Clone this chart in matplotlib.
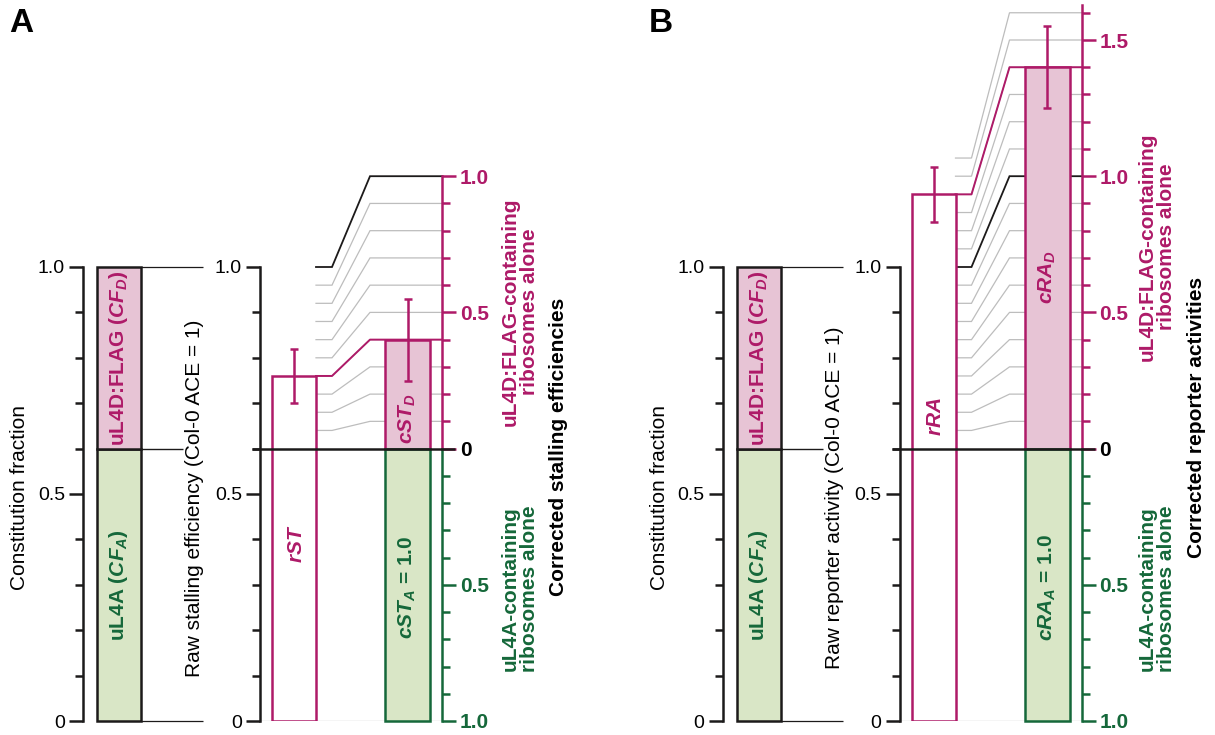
import matplotlib
matplotlib.use("Agg")
import matplotlib.pyplot as plt
import numpy as np

plt.rcParams["font.family"] = ["Liberation Sans", "DejaVu Sans"]
plt.rcParams["mathtext.fontset"] = "custom"
plt.rcParams["mathtext.it"] = "Liberation Sans:italic:bold"
plt.rcParams["mathtext.rm"] = "Liberation Sans:bold"
plt.rcParams["mathtext.bf"] = "Liberation Sans:bold"

# ---------------- data ----------------
panel_letters = ["A", "B"]
cf_labels = ["uL4A ($CF_A$)", "uL4D:FLAG ($CF_D$)"]
CF_A = 0.6
CF_D = 0.4
raw_names = ["$rST$", "$rRA$"]
raw_values = [0.76, 1.16]
raw_errors = [0.06, 0.06]
corrD_names = ["$cST_D$", "$cRA_D$"]
corrD_values = [0.40, 1.40]
corrD_errors = [0.15, 0.15]
corrA_names = ["$cST_A$ = 1.0", "$cRA_A$ = 1.0"]
corrA_values = [1.0, 1.0]
guide_levels = [
    [0.1, 0.2, 0.3, 0.4, 0.5, 0.6, 0.7, 0.8, 0.9, 1.0],
    [0.1, 0.2, 0.3, 0.4, 0.5, 0.6, 0.7, 0.8, 0.9, 1.0, 1.1, 1.2, 1.3, 1.4, 1.5, 1.6],
]
cf_axis_label = "Constitution fraction"
raw_axis_labels = ["Raw stalling efficiency (Col-0 ACE = 1)",
                   "Raw reporter activity (Col-0 ACE = 1)"]
corr_axis_labels = ["Corrected stalling efficiencies", "Corrected reporter activities"]
upper_label = "uL4D:FLAG-containing\nribosomes alone"
lower_label = "uL4A-containing\nribosomes alone"
left_ticks = [0, 0.5, 1.0]
left_tick_labels = ["0", "0.5", "1.0"]
upper_ticks = [[0, 0.5, 1.0], [0, 0.5, 1.0, 1.5]]
upper_tick_labels = [["0", "0.5", "1.0"], ["0", "0.5", "1.0", "1.5"]]
lower_ticks = [0.5, 1.0]
lower_tick_labels = ["0.5", "1.0"]

# ---------------- style ----------------
K = "#1c1a1a"
CRIM = "#AE1A68"
PINK = "#E7C4D5"
GREEN = "#15683A"
GFILL = "#D9E6C6"
GREY = "#BDBDBD"
LW = 1.8

W, H = 1215, 735
Y0, Y1 = 721, 267          # CF / raw 0 and 1.0 (pixels)
S = Y0 - Y1
SC = 272.4                 # pixels per corrected unit
corr_top = [1.0, 1.63]

fig = plt.figure(figsize=(W / 100, H / 100), dpi=100)


def add_px_axes(x0, x1, ytop, ybot):
    ax = fig.add_axes([x0 / W, 1 - ybot / H, (x1 - x0) / W, (ybot - ytop) / H])
    ax.patch.set_facecolor("none")
    for s in ax.spines.values():
        s.set_visible(False)
    ax.set_xticks([])
    return ax


def ftext(x, y, s, **kw):
    return fig.text(x / W, 1 - y / H, s, **kw)


def yticks_style(ax, color, side="left"):
    ax.tick_params(axis="y", which="major", length=10, width=LW, pad=3,
                   color=color, labelsize=14, direction="out")
    ax.tick_params(axis="y", which="minor", length=5.5, width=LW,
                   color=color, direction="out")
    if side == "right":
        ax.yaxis.tick_right()
        ax.tick_params(axis="y", which="both", left=False, right=True)
    else:
        ax.tick_params(axis="y", which="both", right=False, left=True)


minor01 = [0.1, 0.2, 0.3, 0.4, 0.6, 0.7, 0.8, 0.9]

for i in range(2):
    ox = 0 if i == 0 else 639.5

    # ---- constitution fraction axis ----
    ax_cf = add_px_axes(ox + 83, ox + 205, Y1, Y0)
    ax_cf.set_xlim(0, 122)
    ax_cf.set_ylim(0, 1)
    ax_cf.spines["left"].set_visible(True)
    ax_cf.spines["left"].set_linewidth(LW)
    ax_cf.spines["left"].set_color(K)
    ax_cf.set_yticks(left_ticks, left_tick_labels)
    ax_cf.set_yticks(minor01, minor=True)
    yticks_style(ax_cf, K)
    ax_cf.bar(36, CF_A, width=44, bottom=0, facecolor=GFILL, edgecolor=K,
              linewidth=LW, clip_on=False)
    ax_cf.bar(36, CF_D, width=44, bottom=CF_A, facecolor=PINK, edgecolor=K,
              linewidth=LW, clip_on=False)
    ax_cf.hlines([0, 1], 58, 120, color=K, linewidth=0.9, clip_on=False)
    ax_cf.hlines(CF_A, 58, 100, color=K, linewidth=1.0, clip_on=False)
    ax_cf.text(36, CF_A / 2, cf_labels[0], rotation=90, ha="center", va="center",
               color=GREEN, fontweight="bold", fontsize=15)
    ax_cf.text(36, CF_A + CF_D / 2, cf_labels[1], rotation=90, ha="center",
               va="center", color=CRIM, fontweight="bold", fontsize=15)

    # ---- raw axis ----
    ax_raw = add_px_axes(ox + 260, ox + 442, 5, Y0)
    ax_raw.set_xlim(0, 182)
    ax_raw.set_ylim(0, (Y0 - 5) / S)
    ax_raw.spines["left"].set_visible(True)
    ax_raw.spines["left"].set_linewidth(LW)
    ax_raw.spines["left"].set_color(K)
    ax_raw.spines["left"].set_bounds(0, 1)
    ax_raw.set_yticks(left_ticks, left_tick_labels)
    ax_raw.set_yticks(minor01, minor=True)
    yticks_style(ax_raw, K)
    ax_raw.hlines(0, 0, 182, color="#555555", linewidth=0.8)
    ax_raw.bar(34, raw_values[i], width=44, facecolor="white", edgecolor=CRIM,
               linewidth=LW, zorder=3)
    ax_raw.errorbar(34, raw_values[i], yerr=raw_errors[i], fmt="none",
                    ecolor=CRIM, elinewidth=1.8, capsize=3, capthick=1.8, zorder=4)
    ax_raw.text(36, 0.39 if i == 0 else 0.67, raw_names[i], rotation=90,
                ha="center", va="center", color=CRIM, fontsize=15, zorder=5)

    # ---- corrected axes (upper: uL4D, lower: uL4A) ----
    Yz = Y0 - CF_A * S
    top = corr_top[i]
    ax_cu = add_px_axes(ox + 260, ox + 442, Yz - top * SC, Yz)
    ax_cu.set_xlim(0, 182)
    ax_cu.set_ylim(0, top)
    ax_cu.spines["right"].set_visible(True)
    ax_cu.spines["right"].set_linewidth(LW)
    ax_cu.spines["right"].set_color(CRIM)
    ax_cu.set_yticks(upper_ticks[i], upper_tick_labels[i])
    up_minor = [v for v in guide_levels[i] if all(abs(v - t) > 1e-6 for t in upper_ticks[i])]
    ax_cu.set_yticks(up_minor, minor=True)
    yticks_style(ax_cu, CRIM, side="right")
    for lab in ax_cu.get_yticklabels():
        lab.set_color(CRIM)
        lab.set_fontweight("bold")
        lab.set_fontsize(15)
    ax_cu.get_yticklabels()[0].set_color("black")

    ax_cl = add_px_axes(ox + 260, ox + 442, Yz, Y0)
    ax_cl.set_xlim(0, 182)
    ax_cl.set_ylim(1, 0)
    ax_cl.spines["right"].set_visible(True)
    ax_cl.spines["right"].set_linewidth(LW)
    ax_cl.spines["right"].set_color(GREEN)
    ax_cl.set_yticks(lower_ticks, lower_tick_labels)
    ax_cl.set_yticks(minor01, minor=True)
    yticks_style(ax_cl, GREEN, side="right")
    for lab in ax_cl.get_yticklabels():
        lab.set_color(GREEN)
        lab.set_fontweight("bold")
        lab.set_fontsize(15)

    # ---- guide fan from raw axis to corrected axis ----
    def corr_to_raw(c):
        disp = ax_cu.transData.transform((0, c))
        return ax_raw.transData.inverted().transform(disp)[1]

    fan_x = [56, 72, 110, 182]
    for c in guide_levels[i]:
        r = CF_A * corrA_values[i] + CF_D * c
        yr = corr_to_raw(c)
        if abs(c - 1.0) < 1e-6:
            col, lw, z = K, 1.3, 2.2
        else:
            col, lw, z = GREY, 0.9, 2
        ax_raw.plot(fan_x, [r, r, yr, yr], color=col, linewidth=lw, zorder=z,
                    solid_joinstyle="miter", clip_on=False)
    ax_raw.plot(fan_x, [raw_values[i], raw_values[i],
                        corr_to_raw(corrD_values[i]), corr_to_raw(corrD_values[i])],
                color=CRIM, linewidth=1.4, zorder=2.5, clip_on=False)

    # ---- corrected bars ----
    ax_cu.bar(147.5, corrD_values[i], width=45, facecolor=PINK, edgecolor=CRIM,
              linewidth=LW, clip_on=False, zorder=3)
    ax_cu.errorbar(147.5, corrD_values[i], yerr=corrD_errors[i], fmt="none",
                   ecolor=CRIM, elinewidth=1.8, capsize=3, capthick=1.8,
                   zorder=4, clip_on=False)
    ax_cu.text(147.5, 0.11 if i == 0 else 0.63, corrD_names[i], rotation=90,
               ha="center", va="center", color=CRIM, fontsize=15, zorder=5)
    ax_cl.bar(147.5, corrA_values[i], width=45, bottom=0, facecolor=GFILL,
              edgecolor=GREEN, linewidth=LW, clip_on=False, zorder=3)
    ax_cl.text(147.5, 0.51, corrA_names[i], rotation=90, ha="center",
               va="center", color=GREEN, fontsize=15, fontweight="bold", zorder=5)
    ax_cl.hlines(0, -8, 195, color=K, linewidth=1.8, clip_on=False, zorder=6)

    # ---- axis titles ----
    ftext(ox + 20, 497, cf_axis_label, rotation=90, ha="center", va="center",
          fontsize=15)
    ftext(ox + 195, 498, raw_axis_labels[i], rotation=90, ha="center",
          va="center", fontsize=15)
    ftext((520 if i == 0 else 1157), (312 if i == 0 else 247), upper_label,
          rotation=90, ha="center", va="center", fontsize=15, fontweight="bold",
          color=CRIM, linespacing=1.0, multialignment="center")
    ftext((520 if i == 0 else 1157), 589, lower_label,
          rotation=90, ha="center", va="center", fontsize=15, fontweight="bold",
          color=GREEN, linespacing=1.0, multialignment="center")
    ftext((558 if i == 0 else 1197), (447 if i == 0 else 417), corr_axis_labels[i],
          rotation=90, ha="center", va="center", fontsize=15, fontweight="bold",
          color="black")
    ftext(ox + 9, 32, panel_letters[i], fontsize=24, fontweight="bold",
          va="baseline", ha="left")

fig.savefig("out.png", dpi=100)
